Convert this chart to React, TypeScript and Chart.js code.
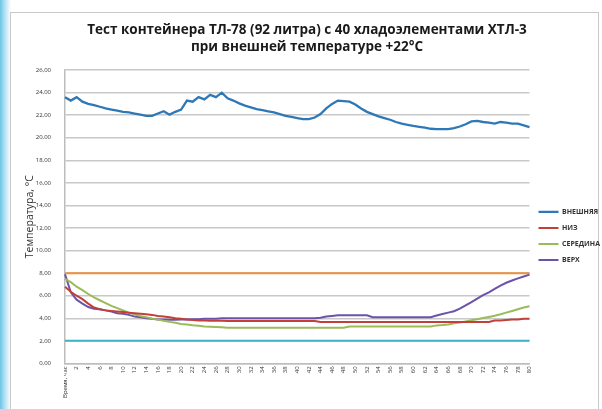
import React, { useEffect, useRef } from "react";
import { Chart, registerables } from "chart.js";

Chart.register(...registerables);

const titleLines = [
  "Тест контейнера ТЛ-78 (92 литра) с 40 хладоэлементами ХТЛ-3",
  "при внешней температуре +22°С",
];
const yAxisTitle = "Температура, °С";
const timeAxisLabel = "Время, час";

const hours = [
  0, 1, 2, 3, 4, 5, 6, 7, 8, 9, 10, 11, 12, 13, 14, 15, 16, 17, 18, 19, 20,
  21, 22, 23, 24, 25, 26, 27, 28, 29, 30, 31, 32, 33, 34, 35, 36, 37, 38, 39,
  40, 41, 42, 43, 44, 45, 46, 47, 48, 49, 50, 51, 52, 53, 54, 55, 56, 57, 58,
  59, 60, 61, 62, 63, 64, 65, 66, 67, 68, 69, 70, 71, 72, 73, 74, 75, 76, 77,
  78, 79, 80,
];

const seriesNames = ["ВНЕШНЯЯ", "НИЗ", "СЕРЕДИНА", "ВЕРХ"];

const outside = [
  23.6, 23.3, 23.6, 23.2, 23.0, 22.9, 22.75, 22.6, 22.5, 22.4,
  22.3, 22.25, 22.15, 22.05, 21.95, 21.95, 22.15, 22.35, 22.05, 22.3,
  22.5, 23.3, 23.2, 23.6, 23.4, 23.8, 23.6, 24.0, 23.5, 23.3,
  23.05, 22.85, 22.7, 22.55, 22.45, 22.35, 22.25, 22.1, 21.95, 21.85,
  21.75, 21.65, 21.65, 21.8, 22.1, 22.6, 23.0, 23.3, 23.25, 23.2,
  22.95, 22.6, 22.3, 22.1, 21.9, 21.75, 21.6, 21.4, 21.25, 21.15,
  21.05, 20.97, 20.9, 20.8, 20.76, 20.76, 20.76, 20.85, 21.0, 21.2,
  21.45, 21.5, 21.4, 21.35, 21.25, 21.4, 21.35, 21.25, 21.25, 21.1,
  20.95,
];

const bottom = [
  6.8, 6.35, 6.0, 5.7, 5.3, 4.95, 4.8, 4.7, 4.65, 4.6,
  4.55, 4.5, 4.45, 4.4, 4.35, 4.3, 4.2, 4.15, 4.1, 4.0,
  3.95, 3.9, 3.85, 3.8, 3.8, 3.78, 3.78, 3.78, 3.76, 3.76,
  3.75, 3.75, 3.75, 3.75, 3.75, 3.75, 3.75, 3.75, 3.75, 3.75,
  3.75, 3.75, 3.75, 3.75, 3.67, 3.67, 3.67, 3.67, 3.67, 3.67,
  3.67, 3.67, 3.67, 3.67, 3.67, 3.67, 3.67, 3.67, 3.67, 3.67,
  3.67, 3.67, 3.67, 3.67, 3.67, 3.67, 3.67, 3.67, 3.67, 3.67,
  3.67, 3.67, 3.67, 3.67, 3.8, 3.8, 3.85, 3.9, 3.9, 3.95,
  3.96,
];

const middle = [
  7.5, 7.2, 6.8, 6.5, 6.15, 5.85, 5.6, 5.35, 5.1, 4.9,
  4.7, 4.5, 4.35, 4.2, 4.1, 3.97, 3.88, 3.78, 3.68, 3.6,
  3.5, 3.45, 3.38, 3.33, 3.28, 3.25, 3.22, 3.2, 3.17, 3.17,
  3.17, 3.17, 3.17, 3.17, 3.17, 3.17, 3.17, 3.17, 3.17, 3.17,
  3.17, 3.17, 3.17, 3.17, 3.17, 3.17, 3.17, 3.17, 3.17, 3.28,
  3.28, 3.28, 3.28, 3.28, 3.28, 3.28, 3.28, 3.28, 3.28, 3.28,
  3.28, 3.28, 3.28, 3.28, 3.37, 3.4, 3.45, 3.55, 3.62, 3.72,
  3.82, 3.92, 4.02, 4.12, 4.22, 4.35, 4.5, 4.65, 4.8, 4.95,
  5.06,
];

const upper = [
  7.9, 6.3, 5.65, 5.3, 5.0, 4.85, 4.8, 4.7, 4.6, 4.45,
  4.4, 4.3, 4.15, 4.1, 4.0, 3.95, 3.9, 3.9, 3.88, 3.88,
  3.9, 3.9, 3.92, 3.92, 3.95, 3.95, 3.95, 4.0, 4.0, 4.0,
  4.0, 4.0, 4.0, 4.0, 4.0, 4.0, 4.0, 4.0, 4.0, 4.0,
  4.0, 4.0, 4.0, 4.0, 4.05, 4.15, 4.2, 4.26, 4.26, 4.26,
  4.26, 4.26, 4.26, 4.1, 4.1, 4.1, 4.1, 4.1, 4.1, 4.1,
  4.1, 4.1, 4.1, 4.1, 4.25, 4.38, 4.5, 4.62, 4.85, 5.15,
  5.44, 5.75, 6.05, 6.3, 6.6, 6.9, 7.15, 7.35, 7.54, 7.7,
  7.87,
];

const limitHigh = 8;
const limitLow = 2;

const FONT = "'Open Sans', 'Noto Sans', sans-serif";

export default function App() {
  const ref = useRef<HTMLCanvasElement>(null);

  useEffect(() => {
    if (!ref.current) return;
    const mk = (label: string, data: number[], color: string, w = 2) => ({
      label,
      data,
      borderColor: color,
      backgroundColor: color,
      borderWidth: w,
      pointRadius: 0,
      pointStyle: "line" as const,
      tension: 0,
      fill: false,
    });
    const chart = new Chart(ref.current, {
      type: "line",
      data: {
        labels: hours,
        datasets: [
          mk(seriesNames[0], outside, "#2f78b7", 2.3),
          mk(seriesNames[1], bottom, "#c2403a"),
          mk(seriesNames[2], middle, "#9bbb59"),
          mk(seriesNames[3], upper, "#6b53a8"),
          mk("limitHigh", hours.map(() => limitHigh), "#f0923c"),
          mk("limitLow", hours.map(() => limitLow), "#3ab3c7"),
        ],
      },
      options: {
        responsive: false,
        animation: false,
        layout: { padding: { left: 4, right: -8, top: 21, bottom: 8 } },
        plugins: {
          tooltip: { enabled: false },
          title: {
            display: true,
            text: titleLines,
            color: "#1a1a1a",
            font: { family: FONT, size: 13.5, weight: "bold", lineHeight: 1.3 },
            padding: { top: 0, bottom: 14 },
          },
          legend: {
            position: "right",
            fullSize: false,
            title: {
              display: true,
              text: " ",
              font: { size: 2 },
              padding: { top: 36, bottom: 0 },
            },
            labels: {
              filter: (item: any) => item.datasetIndex < 4,
              usePointStyle: true,
              pointStyle: "line",
              pointStyleWidth: 20,
              color: "#333",
              padding: 9,
              font: { family: FONT, size: 7, weight: "bold" },
            },
          },
        },
        scales: {
          x: {
            type: "category",
            offset: false,
            grid: { display: false, drawTicks: false },
            border: { color: "#bdbdbd", width: 1.5 },
            ticks: {
              autoSkip: false,
              minRotation: 90,
              maxRotation: 90,
              color: "#333",
              padding: 3,
              font: { family: FONT, size: 6 },
              callback: (_v: any, i: number) =>
                i === 0 ? timeAxisLabel : hours[i] % 2 === 0 ? String(hours[i]) : "",
            },
          },
          y: {
            min: 0,
            max: 26,
            afterFit: (scale: any) => {
              scale.width = 61;
            },
            grid: { color: "#c8c8c8", lineWidth: 1.5, drawTicks: false },
            border: { color: "#bdbdbd", width: 1.5 },
            ticks: {
              stepSize: 2,
              color: "#333",
              padding: 14,
              font: { family: FONT, size: 6 },
              callback: (v: any) => Number(v).toFixed(2).replace(".", ","),
            },
            title: {
              display: true,
              text: yAxisTitle,
              color: "#333",
              font: { family: FONT, size: 10.5 },
              padding: { top: 20, bottom: 0 },
            },
          },
        },
      },
    });
    return () => chart.destroy();
  }, []);

  return (
    <div
      style={{
        position: "absolute",
        left: 0,
        top: 0,
        width: 602,
        height: 409,
        overflow: "hidden",
        background:
          "linear-gradient(to right, #6cc4e6 0px, #b7e2f3 5px, #e9f6fb 9px, #ffffff 11px)",
      }}
    >
      <div
        style={{
          position: "absolute",
          left: 10,
          top: 12,
          width: 587,
          height: 410,
          border: "1.5px solid #c9c9c9",
          background: "#ffffff",
        }}
      />
      <canvas
        ref={ref}
        width={602}
        height={409}
        style={{ position: "absolute", left: 0, top: 0, width: 602, height: 409 }}
      />
    </div>
  );
}
